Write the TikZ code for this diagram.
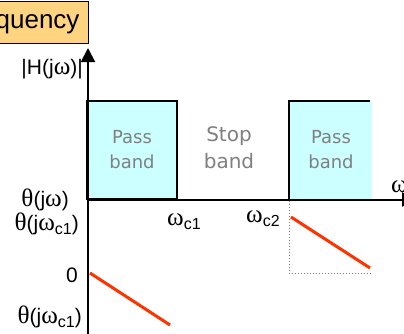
\documentclass[tikz,border=0pt]{standalone}
\usepackage{fontspec}
\setmainfont{Liberation Sans}
\newfontfamily\grkfont[Scale=1.2]{Liberation Serif}
\newfontfamily\bandfont{DejaVu Sans}
\usetikzlibrary{arrows.meta}
\definecolor{titlefill}{RGB}{255,212,128}
\definecolor{passfill}{RGB}{204,255,255}
\definecolor{phasered}{RGB}{255,51,0}
\definecolor{bandgray}{RGB}{128,128,128}
\newcommand{\omg}{{\grkfont ω}}
\newcommand{\tht}{{\grkfont θ}}
\newcommand{\subc}[1]{\raisebox{-4pt}{\fontsize{16}{16}\selectfont #1}}
\tikzset{
  axisline/.style={line width=2pt, -{Triangle[width=14pt,length=14pt]}},
  passbox/.style={fill=passfill, draw=black, line width=2pt, inner sep=0pt,
    minimum width=90pt, minimum height=98pt},
  bandtext/.style={text=bandgray, align=center, font=\bandfont\fontsize{18}{25}\selectfont},
  stoptext/.style={text=bandgray, align=center, font=\bandfont\fontsize{20}{27}\selectfont},
  lbl/.style={inner sep=0pt, font=\fontsize{21}{23}\selectfont},
  phase/.style={draw=phasered, line width=3pt},
  guide/.style={draw=gray, dotted, line width=1pt},
  titlebox/.style={fill=titlefill, draw=black, line width=1pt, inner xsep=9pt,
    minimum height=42pt, font=\fontsize{26}{28}\selectfont}
}
\begin{document}
\begin{tikzpicture}[x=1pt,y=-1pt]
\useasboundingbox (0,0) rectangle (404,333);
% title
\node[titlebox, anchor=east] (title) at (89,22) {Frequency};
% pass band boxes
\node[passbox] (pb1) at (132,150) {};
\node[bandtext] (pt1) at (pb1.center) {Pass\\band};
\fill[passfill] (289,101) rectangle (372,199.5);
\coordinate (b2bl) at (289,199.5);
\coordinate (b2tl) at (289,101);
\coordinate (b2tr) at (370,101);
\draw[line width=2pt] (b2bl) -- (b2tl) -- (b2tr);
\node[bandtext] (pt2) at (331,150) {Pass\\band};
\node[stoptext] (st) at (229,148) {Stop\\band};
% axes
\coordinate (org) at (88,199.5);
\coordinate (ytop) at (88,48);
\coordinate (ybot) at (88,340);
\coordinate (xend) at (416,199.5);
\draw[axisline] (ybot) -- (ytop);
\draw[axisline] (org) -- (xend);
% labels
\node[lbl, anchor=east] (hlbl) at (83,69) {|H(j\omg)|};
\node[lbl, anchor=east] (th1) at (69,200) {\tht(j\omg)};
\node[lbl, anchor=east] (th2) at (79,224) {\tht(j\omg\subc{c1})};
\node[lbl, anchor=east] (zero) at (78,275) {0};
\node[lbl, anchor=east] (th3) at (82,317) {\tht(j\omg\subc{c1})};
\node[lbl, anchor=west] (wc1) at (167,222) {\omg\subc{c1}};
\node[lbl, anchor=west] (wc2) at (246,219) {\omg\subc{c2}};
\node[lbl, anchor=west] (wx) at (391,187) {\omg};
% phase lines
\coordinate (p1a) at (90,273);
\coordinate (p1b) at (170,325);
\draw[phase] (p1a) -- (p1b);
\coordinate (p2a) at (291,217);
\coordinate (p2b) at (370,268);
\draw[phase] (p2a) -- (p2b);
\coordinate (g1) at (289,200.5);
\coordinate (g2) at (289,273);
\coordinate (g3) at (372,273);
\draw[guide] (g1) -- (g2) -- (g3);
\end{tikzpicture}
\end{document}
